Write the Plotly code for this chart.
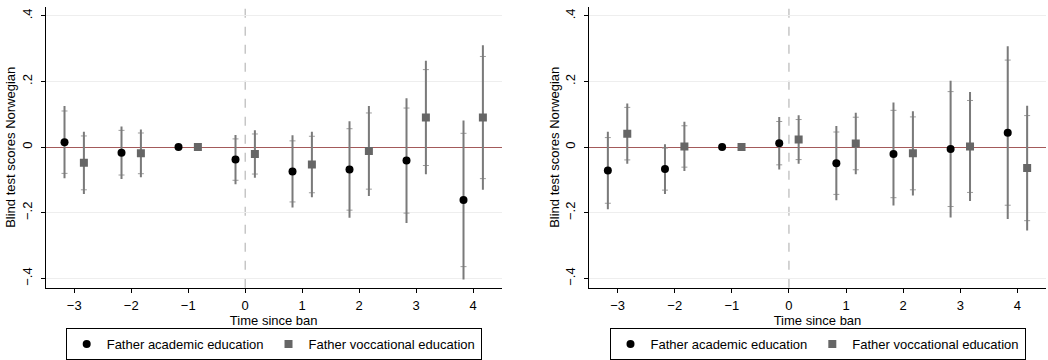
import plotly.graph_objects as go

# ---- data ----
time_since_ban = [-3, -2, -1, 0, 1, 2, 3, 4]

left_acad = [0.015, -0.017, 0.0, -0.038, -0.074, -0.068, -0.041, -0.161]
left_acad_ci90 = [0.095, 0.068, None, 0.063, 0.093, 0.124, 0.160, 0.203]
left_acad_ci95 = [0.110, 0.080, None, 0.075, 0.110, 0.147, 0.190, 0.242]

left_voc = [-0.048, -0.019, 0.0, -0.021, -0.053, -0.012, 0.090, 0.090]
left_voc_ci90 = [0.082, 0.062, None, 0.061, 0.086, 0.116, 0.146, 0.186]
left_voc_ci95 = [0.095, 0.073, None, 0.072, 0.100, 0.137, 0.173, 0.220]

right_acad = [-0.071, -0.067, 0.0, 0.012, -0.049, -0.021, -0.006, 0.044]
right_acad_ci90 = [0.100, 0.064, None, 0.066, 0.095, 0.133, 0.175, 0.221]
right_acad_ci95 = [0.118, 0.076, None, 0.080, 0.113, 0.157, 0.208, 0.263]

right_voc = [0.041, 0.002, 0.0, 0.023, 0.011, -0.019, 0.002, -0.064]
right_voc_ci90 = [0.080, 0.063, None, 0.061, 0.080, 0.111, 0.140, 0.160]
right_voc_ci95 = [0.092, 0.075, None, 0.074, 0.094, 0.128, 0.166, 0.190]

series_names = ["Father academic education", "Father voccational education"]
y_tickvals = [-0.4, -0.2, 0, 0.2, 0.4]
y_ticktext = ["\u2212.4", "\u2212.2", "0", ".2", ".4"]
x_tickvals = [-3, -2, -1, 0, 1, 2, 3, 4]

# ---- style ----
FONT = "Liberation Sans, Arial, sans-serif"
FS = 13
OFFSET = 0.17
W, H = 1048, 360

fig = go.Figure()

def add_series(x_vals, y_vals, ci90, ci95, xa, ya, name, symbol, color, legend, off):
    xs = [t + off for t in x_vals]
    fig.add_trace(go.Scatter(
        x=xs, y=y_vals, mode="markers", xaxis=xa, yaxis=ya,
        marker=dict(size=1, color="rgba(0,0,0,0)"), showlegend=False, hoverinfo="skip",
        error_y=dict(type="data", array=ci90, symmetric=True, color="#9c9c9c",
                     thickness=1, width=3)))
    fig.add_trace(go.Scatter(
        x=xs, y=y_vals, mode="markers", xaxis=xa, yaxis=ya,
        marker=dict(size=1, color="rgba(0,0,0,0)"), showlegend=False, hoverinfo="skip",
        error_y=dict(type="data", array=ci95, symmetric=True, color="#7a7a7a",
                     thickness=2, width=0)))
    fig.add_trace(go.Scatter(
        x=xs, y=y_vals, mode="markers", xaxis=xa, yaxis=ya, name=name,
        marker=dict(size=8, symbol=symbol, color=color, line=dict(width=0)),
        legend=legend, showlegend=True))

add_series(time_since_ban, left_acad, left_acad_ci90, left_acad_ci95, "x", "y",
           series_names[0], "circle", "black", "legend", -OFFSET)
add_series(time_since_ban, left_voc, left_voc_ci90, left_voc_ci95, "x", "y",
           series_names[1], "square", "#666666", "legend", OFFSET)
add_series(time_since_ban, right_acad, right_acad_ci90, right_acad_ci95, "x2", "y2",
           series_names[0], "circle", "black", "legend2", -OFFSET)
add_series(time_since_ban, right_voc, right_voc_ci90, right_voc_ci95, "x2", "y2",
           series_names[1], "square", "#666666", "legend2", OFFSET)

x1d = [45.7 / W, 501.7 / W]
x2d = [589 / W, 1046 / W]
yd = [1 - 291.7 / H, 1 - 7 / H]

xaxis_common = dict(range=[-3.5, 4.5], tickvals=x_tickvals, showgrid=False, zeroline=False,
                    showline=True, linecolor="black", linewidth=1, ticks="outside",
                    ticklen=4, tickcolor="black", ticklabelstandoff=2,
                    tickfont=dict(size=FS, color="black"),
                    title=dict(text="Time since ban", font=dict(size=FS, color="black"), standoff=0))
yaxis_common = dict(range=[-0.428, 0.427], tickvals=y_tickvals, ticktext=y_ticktext,
                    showgrid=True, gridcolor="#eeeeee", gridwidth=1,
                    zeroline=True, zerolinecolor="#a35a5a", zerolinewidth=1.4,
                    showline=True, linecolor="black", linewidth=1, ticks="outside",
                    ticklen=4, tickcolor="black", tickangle=-90, ticklabelstandoff=4,
                    tickfont=dict(size=FS, color="black"),
                    title=dict(text="Blind test scores Norwegian", font=dict(size=FS, color="black"), standoff=0))

legend_common = dict(orientation="h", xanchor="center", y=1 - 333 / H, yanchor="top",
                     bordercolor="black", borderwidth=1, font=dict(size=FS, color="black"),
                     itemwidth=30, bgcolor="white")

fig.update_layout(
    width=W, height=H, margin=dict(l=0, r=0, t=0, b=0),
    paper_bgcolor="white", plot_bgcolor="white",
    font=dict(family=FONT, size=FS, color="black"),
    xaxis=dict(domain=x1d, anchor="y", **xaxis_common),
    yaxis=dict(domain=yd, anchor="x", **yaxis_common),
    xaxis2=dict(domain=x2d, anchor="y2", **xaxis_common),
    yaxis2=dict(domain=yd, anchor="x2", **yaxis_common),
    legend=dict(x=(x1d[0] + x1d[1]) / 2, **legend_common),
    legend2=dict(x=(x2d[0] + x2d[1]) / 2, **legend_common),
)

for xa, ya in [("x", "y"), ("x2", "y2")]:
    fig.add_shape(type="line", xref=xa, yref=f"{ya} domain", x0=0, x1=0, y0=0, y1=1,
                  line=dict(color="#b8b8b8", width=1.2, dash="dash"), layer="below")

fig.write_html("out.html")
